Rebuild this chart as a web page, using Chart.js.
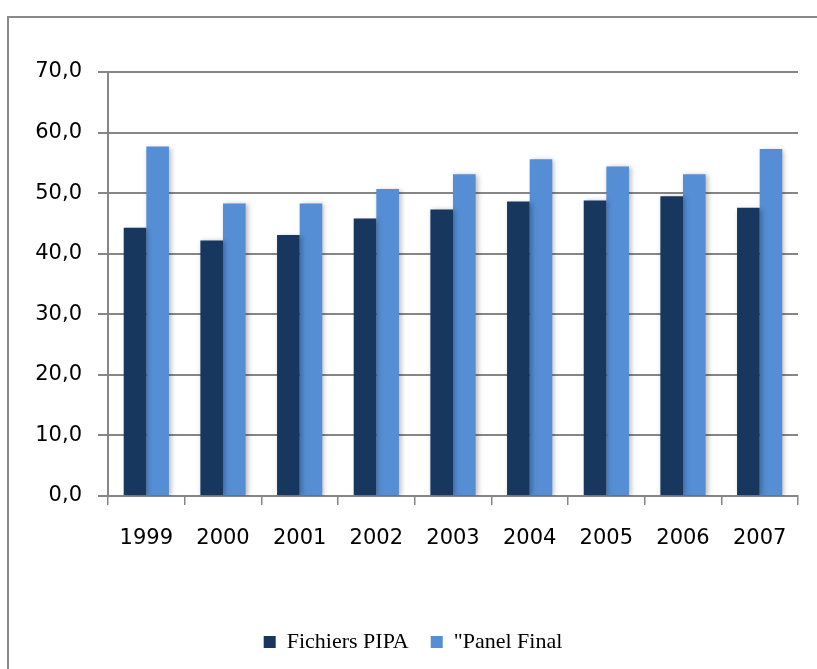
<!DOCTYPE html>
<html>
<head>
<meta charset="utf-8">
<script src="https://cdn.jsdelivr.net/npm/chart.js@4"></script>
<style>
    html, body { margin: 0; padding: 0; background: #fff; overflow: hidden; }
    #wrap { position: relative; width: 817px; height: 669px; }
    #frame { position: absolute; left: 7px; top: 16px; width: 900px; height: 800px; border: 2px solid #8a8a8a; }
    #chart { position: absolute; left: 0; top: 0; }
</style>
</head>
<body>
<div id="wrap">
    <div id="frame"></div>
    <canvas id="chart" width="817" height="669"></canvas>
</div>
<script>
// Données
const annees = ['1999', '2000', '2001', '2002', '2003', '2004', '2005', '2006', '2007'];
const fichiersPipa = [44.3, 42.2, 43.1, 45.8, 47.3, 48.6, 48.8, 49.5, 47.6];
const panelFinal = [57.7, 48.3, 48.3, 50.7, 53.1, 55.6, 54.4, 53.1, 57.3];

const GRIS = '#868686';

// Ombre légère sous les barres
const ombreBarres = {
    id: 'ombreBarres',
    beforeDatasetsDraw(chart) {
        const ctx = chart.ctx;
        ctx.save();
        ctx.shadowColor = 'rgba(0, 0, 0, 0.28)';
        ctx.shadowBlur = 5;
        ctx.shadowOffsetX = 2;
        ctx.shadowOffsetY = 1;
    },
    afterDatasetsDraw(chart) {
        chart.ctx.restore();
    }
};

new Chart(document.getElementById('chart'), {
    type: 'bar',
    data: {
        labels: annees,
        datasets: [
            { label: 'Fichiers PIPA', data: fichiersPipa, backgroundColor: '#17375E', borderWidth: 0 },
            { label: '"Panel Final', data: panelFinal, backgroundColor: '#558ED5', borderWidth: 0 }
        ]
    },
    options: {
        responsive: false,
        animation: false,
        layout: { padding: { left: 28, right: 19, top: 72, bottom: 6 } },
        datasets: { bar: { categoryPercentage: 0.59, barPercentage: 1.0 } },
        plugins: {
            tooltip: { enabled: false },
            legend: {
                position: 'bottom',
                labels: {
                    color: '#000',
                    font: { family: '"Liberation Serif", "Times New Roman", serif', size: 22 },
                    boxWidth: 12,
                    boxHeight: 12,
                    padding: 22
                }
            }
        },
        scales: {
            x: {
                grid: { display: true, drawOnChartArea: false, drawTicks: true, tickLength: 9, color: GRIS, lineWidth: 1.5 },
                border: { display: true, color: GRIS, width: 2 },
                ticks: {
                    color: '#000',
                    font: { family: '"DejaVu Sans", Verdana, sans-serif', size: 21 },
                    padding: 21,
                    maxRotation: 0
                },
                afterFit(scale) { scale.height = 113; }
            },
            y: {
                min: 0,
                max: 70,
                grid: { color: GRIS, lineWidth: 2, tickLength: 10 },
                border: { display: true, color: GRIS, width: 2 },
                ticks: {
                    stepSize: 10,
                    color: '#000',
                    font: { family: '"DejaVu Sans", Verdana, sans-serif', size: 21 },
                    padding: 16,
                    callback: v => v.toFixed(1).replace('.', ',')
                },
                afterFit(scale) { scale.width = 80; }
            }
        }
    },
    plugins: [ombreBarres]
});
</script>
</body>
</html>
